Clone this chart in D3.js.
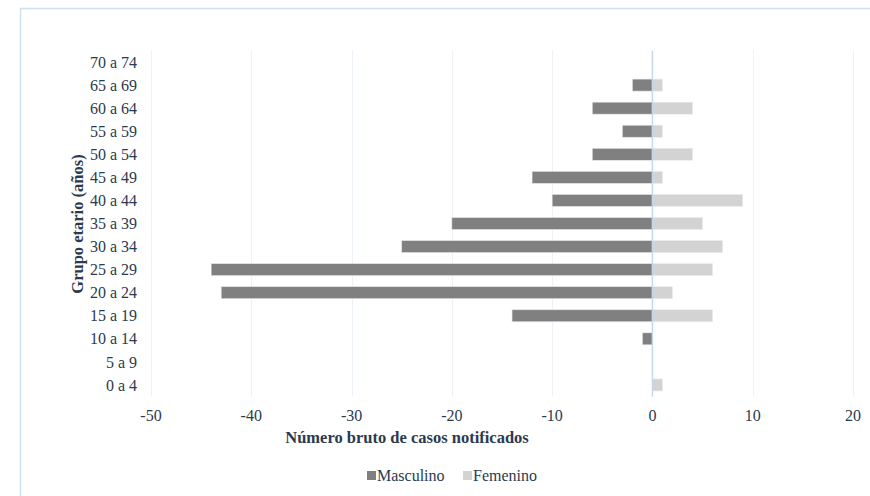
<!DOCTYPE html>
<html>
<head>
<meta charset="utf-8">
<script src="https://cdn.jsdelivr.net/npm/d3@7"></script>
<style>
  body { margin: 0; background: #fff; }
</style>
</head>
<body>
<svg id="chart" width="870" height="496"></svg>
<script>
// age groups, top to bottom as drawn
const grupos = ["70 a 74","65 a 69","60 a 64","55 a 59","50 a 54","45 a 49","40 a 44",
                "35 a 39","30 a 34","25 a 29","20 a 24","15 a 19","10 a 14","5 a 9","0 a 4"];
// male counts are plotted to the left (negative)
const masculino = [0,-2,-6,-3,-6,-12,-10,-20,-25,-44,-43,-14,-1,0,0];
const femenino  = [0, 1, 4, 1, 4,  1,  9,  5,  7,  6,  2,  6, 0,0,1];
const xTicks = [-50,-40,-30,-20,-10,0,10,20];

const svg = d3.select("#chart")
    .attr("font-family", "'Liberation Serif', 'Times New Roman', Tinos, 'DejaVu Serif', serif");

const textCol = "#2b3a4d";
const fs = 16;

// outer frame
svg.append("rect")
    .attr("x", 20.5).attr("y", 8.5)
    .attr("width", 870).attr("height", 500)
    .attr("fill", "none")
    .attr("stroke", "#cfe0f3")
    .attr("stroke-width", 1.5);

const margin = {left: 151, right: 17, top: 50.5, bottom: 99.5};
const x = d3.scaleLinear().domain([-50, 20]).range([margin.left, 870 - margin.right]);
const y = d3.scaleBand().domain(grupos).range([margin.top, 496 - margin.bottom]).paddingInner(0.48).paddingOuter(0.24);

// gridlines
svg.append("g").selectAll("line")
    .data(xTicks.filter(d => d !== 0))
    .enter().append("line")
    .attr("x1", d => Math.round(x(d)) + 0.5)
    .attr("x2", d => Math.round(x(d)) + 0.5)
    .attr("y1", margin.top)
    .attr("y2", 496 - margin.bottom)
    .attr("stroke", "#edf2f9")
    .attr("stroke-width", 1);

// bars
const rows = grupos.map((g, i) => ({g: g, m: masculino[i], f: femenino[i]}));

svg.append("g").selectAll("rect")
    .data(rows.filter(d => d.m !== 0))
    .enter().append("rect")
    .attr("x", d => x(d.m))
    .attr("y", d => y(d.g))
    .attr("width", d => x(0) - x(d.m))
    .attr("height", y.bandwidth())
    .attr("fill", "#808080")
    .attr("stroke", "#e6e6e6")
    .attr("stroke-width", 0.6);

svg.append("g").selectAll("rect")
    .data(rows.filter(d => d.f !== 0))
    .enter().append("rect")
    .attr("x", x(0))
    .attr("y", d => y(d.g))
    .attr("width", d => x(d.f) - x(0))
    .attr("height", y.bandwidth())
    .attr("fill", "#d3d3d3")
    .attr("stroke", "#ececec")
    .attr("stroke-width", 0.6);

// zero line
svg.append("line")
    .attr("x1", x(0)).attr("x2", x(0))
    .attr("y1", margin.top).attr("y2", 496 - margin.bottom)
    .attr("stroke", "#c3d7ef")
    .attr("stroke-width", 1.5);

// y axis labels
svg.append("g").selectAll("text")
    .data(grupos)
    .enter().append("text")
    .attr("x", 137)
    .attr("y", d => y(d) + y.bandwidth() / 2)
    .attr("dy", "0.35em")
    .attr("text-anchor", "end")
    .attr("fill", textCol)
    .attr("font-size", fs)
    .text(d => d);

// x axis labels
svg.append("g").selectAll("text")
    .data(xTicks)
    .enter().append("text")
    .attr("x", d => x(d))
    .attr("y", 421)
    .attr("text-anchor", "middle")
    .attr("fill", textCol)
    .attr("font-size", fs)
    .text(d => d);

// axis titles
svg.append("text")
    .attr("x", 407).attr("y", 443)
    .attr("text-anchor", "middle")
    .attr("fill", textCol)
    .attr("font-size", 16.5).attr("font-weight", "bold")
    .text("Número bruto de casos notificados");

svg.append("text")
    .attr("transform", "translate(83,224) rotate(-90)")
    .attr("text-anchor", "middle")
    .attr("fill", textCol)
    .attr("font-size", 16.5).attr("font-weight", "bold")
    .text("Grupo etario (años)");

// legend
const legend = [{name: "Masculino", c: "#808080", x: 367}, {name: "Femenino", c: "#d3d3d3", x: 463}];
const lg = svg.append("g").selectAll("g").data(legend).enter().append("g")
    .attr("transform", d => "translate(" + d.x + ",471)");
lg.append("rect").attr("width", 9).attr("height", 9).attr("fill", d => d.c);
lg.append("text").attr("x", 10).attr("y", 10)
    .attr("fill", textCol)
    .attr("font-size", fs).text(d => d.name);
</script>
</body>
</html>
